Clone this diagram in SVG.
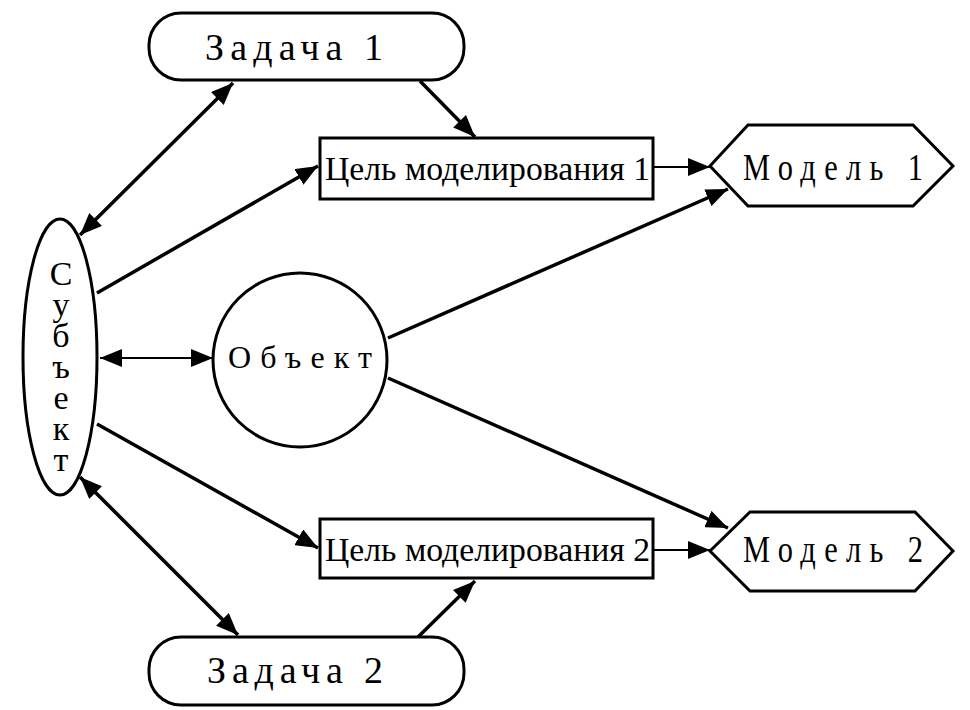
<svg xmlns="http://www.w3.org/2000/svg" width="970" height="710" viewBox="0 0 970 710">
<defs>
<style>
.shape{fill:#fff;stroke:#000;stroke-width:3}
.t{font-family:"Liberation Serif","Times New Roman",serif;fill:#000}
.c{stroke:#000;stroke-width:3.5;fill:none}
.h{stroke:#000;stroke-width:2;fill:none}
</style>
<marker id="ae" viewBox="0 0 22 18" refX="22" refY="9" markerWidth="22" markerHeight="18" markerUnits="userSpaceOnUse" orient="auto"><path d="M0,0 L22,9 L0,18 Z" fill="#000"/></marker>
<marker id="as" viewBox="0 0 22 18" refX="0" refY="9" markerWidth="22" markerHeight="18" markerUnits="userSpaceOnUse" orient="auto"><path d="M22,0 L0,9 L22,18 Z" fill="#000"/></marker>
</defs>
<rect width="970" height="710" fill="#fff"/>
<g id="connectors">
<line class="c" x1="80" y1="235" x2="233" y2="83" marker-start="url(#as)" marker-end="url(#ae)"/>
<line class="c" x1="420" y1="81" x2="475" y2="137" marker-end="url(#ae)"/>
<line class="c" x1="97" y1="293" x2="318" y2="166" marker-end="url(#ae)"/>
<line class="h" x1="653" y1="167" x2="710" y2="167" marker-end="url(#ae)"/>
<line class="c" x1="388" y1="338" x2="728" y2="189" marker-end="url(#ae)"/>
<line class="h" x1="100" y1="358" x2="213" y2="358" marker-start="url(#as)" marker-end="url(#ae)"/>
<line class="c" x1="388" y1="378" x2="728" y2="528" marker-end="url(#ae)"/>
<line class="c" x1="97" y1="424" x2="318" y2="548" marker-end="url(#ae)"/>
<line class="c" x1="80" y1="477" x2="238" y2="635" marker-start="url(#as)" marker-end="url(#ae)"/>
<line class="c" x1="418" y1="637" x2="475" y2="581" marker-end="url(#ae)"/>
<line class="h" x1="653" y1="550" x2="710" y2="550" marker-end="url(#ae)"/>
</g>
<g id="zadacha1">
<rect class="shape" x="149" y="13" width="315" height="67" rx="32" ry="32"/>
<text class="t" x="205" y="60" font-size="38" textLength="178">Задача 1</text>
</g>
<g id="zadacha2">
<rect class="shape" x="149" y="637" width="315" height="68" rx="32" ry="32"/>
<text class="t" x="207" y="683" font-size="38" textLength="176">Задача 2</text>
</g>
<g id="cel1">
<rect class="shape" x="320" y="138" width="333" height="61"/>
<text class="t" x="325" y="180" font-size="33" textLength="325" lengthAdjust="spacingAndGlyphs">Цель моделирования 1</text>
</g>
<g id="cel2">
<rect class="shape" x="320" y="519" width="333" height="59"/>
<text class="t" x="325" y="561" font-size="33" textLength="325" lengthAdjust="spacingAndGlyphs">Цель моделирования 2</text>
</g>
<g id="model1">
<polygon class="shape" points="710,166 748,125 913,125 953,166 913,206 748,206"/>
<text class="t" transform="translate(743,180) scale(0.8,1)" x="0" y="0" font-size="38" textLength="225">Модель 1</text>
</g>
<g id="model2">
<polygon class="shape" points="710,551 750,512 915,512 953,551 915,591 750,591"/>
<text class="t" transform="translate(743,562) scale(0.8,1)" x="0" y="0" font-size="38" textLength="225">Модель 2</text>
</g>
<g id="subject">
<ellipse class="shape" cx="60" cy="357" rx="37" ry="138"/>
<text class="t" x="61" y="255" font-size="34" letter-spacing="-6" style="writing-mode:vertical-rl;text-orientation:upright">Субъект</text>
</g>
<g id="object">
<circle class="shape" cx="300" cy="360" r="87"/>
<text class="t" x="228" y="368" font-size="32" textLength="144">Объект</text>
</g>
</svg>
